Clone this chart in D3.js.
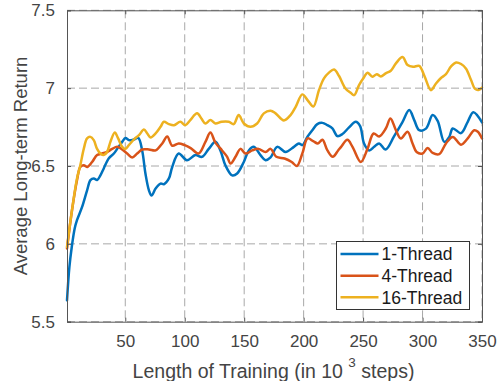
<!DOCTYPE html>
<html><head><meta charset="utf-8">
<script src="https://cdn.jsdelivr.net/npm/d3@7"></script>
<style>html,body{margin:0;padding:0;background:#fff;}svg{display:block;font-family:Arial,"Liberation Sans",Helvetica,sans-serif;}</style>
</head><body>
<svg id="chart" width="500" height="381"></svg>
<script>
const xTicks = [50, 100, 150, 200, 250, 300, 350];
const yTicks = [5.5, 6, 6.5, 7, 7.5];
const seriesNames = ["1-Thread", "4-Thread", "16-Thread"];
const seriesColors = ["#0072BD", "#D95319", "#EDB120"];

const x1 = [1,3,5,7.5,9.4,13.7,17.9,20.7,23.5,26.3,29.1,32,36.2,40.4,43.2,47.4,50.2,53,57.2,60.9,64.2,67,69.9,72.1,75.5,79.7,82.5,86.7,89.5,94.9,101.9,109,114.6,120.2,125.8,130,134.2,139.9,144.1,149.7,153.9,158.1,163.7,168,172.2,177.8,184.8,191.8,196,198.9,203.1,207.3,211.5,215.8,220,224.2,228.4,232.6,238.2,243.8,247.5,250.8,255.1,259.3,263.5,269,276,283,288.8,293,297.2,302.9,308.5,312.7,318.3,322.5,325.4,332.4,338,342.7,350];
const y1 = [5.637,5.85,5.98,6.1,6.152,6.237,6.344,6.409,6.42,6.41,6.44,6.486,6.55,6.58,6.61,6.655,6.68,6.666,6.67,6.68,6.6,6.45,6.344,6.31,6.355,6.387,6.383,6.42,6.494,6.58,6.537,6.57,6.559,6.61,6.655,6.6,6.505,6.44,6.452,6.526,6.6,6.623,6.57,6.537,6.555,6.623,6.59,6.623,6.645,6.634,6.687,6.73,6.769,6.777,6.762,6.741,6.692,6.705,6.748,6.784,6.756,6.645,6.6,6.623,6.645,6.606,6.69,6.78,6.859,6.795,6.73,6.74,6.827,6.79,6.655,6.687,6.741,6.711,6.784,6.845,6.78];

const x4 = [1,5.2,9.4,12.2,15.1,17.9,22.1,26.3,30.5,34.7,39,43.2,47.4,51.6,55.8,60,64.2,69.9,75.5,81.1,85.3,89.5,94.9,100,105,111.7,117.4,121.6,125.8,131.4,135.7,138.5,142.7,146.9,151.1,156.7,162,168,172.2,177,184,190,194.3,198.9,203.3,208,212,215.8,220,224.5,229,231.5,236.8,241.1,248.1,253.7,258.8,263.5,269.1,273,277.6,281.8,287.4,291.6,295,300,304.3,308.5,314,319.7,325.4,332.4,338,343.5,346.5,350];
const y4 = [5.97,6.216,6.409,6.494,6.505,6.494,6.526,6.57,6.58,6.59,6.61,6.623,6.606,6.58,6.555,6.58,6.606,6.606,6.6,6.645,6.69,6.63,6.645,6.634,6.615,6.58,6.655,6.715,6.65,6.6,6.559,6.516,6.559,6.61,6.58,6.6,6.61,6.59,6.61,6.559,6.548,6.526,6.5,6.58,6.677,6.66,6.645,6.668,6.6,6.559,6.6,6.623,6.668,6.623,6.526,6.61,6.709,6.69,6.741,6.805,6.73,6.677,6.72,6.645,6.59,6.58,6.615,6.584,6.576,6.645,6.687,6.637,6.677,6.73,6.72,6.677];

const x16 = [1,5.2,9.4,12.2,15.1,17.9,20.7,23.5,26.3,29.1,31.9,34.7,37.5,41.2,44,47.4,50,53,57.2,61.5,65.7,68.5,71.3,75.5,79.7,82.5,86.7,91,96.3,100.5,104.7,110.4,114,117.4,121.6,125.8,131,137,141.2,145.4,149.7,155.3,160.9,166.5,172.2,176.4,183.4,189,193.3,198.9,203.6,208.2,213,217.1,221.3,225.6,229.8,235,239.6,242.5,246.6,250.8,253.7,257.9,261.5,264.9,269,273.3,277.6,283.2,287.4,292,297.2,301.5,307.1,311.3,315.5,319.7,324,328.2,332.4,336.6,340.8,344.2,347,350];
const y16 = [5.98,6.216,6.42,6.505,6.61,6.677,6.687,6.666,6.61,6.58,6.57,6.59,6.655,6.715,6.677,6.623,6.61,6.634,6.67,6.698,6.734,6.709,6.683,6.709,6.752,6.784,6.769,6.762,6.784,6.762,6.795,6.838,6.805,6.773,6.795,6.773,6.784,6.784,6.769,6.827,6.773,6.752,6.773,6.838,6.855,6.838,6.793,6.827,6.88,6.96,6.92,6.882,6.99,7.063,7.1,7.12,7.078,7.0,6.97,6.955,7.02,7.07,7.099,7.073,7.09,7.075,7.095,7.112,7.159,7.2,7.148,7.137,7.143,7.08,6.987,7.03,7.065,7.09,7.14,7.165,7.155,7.125,7.052,6.995,6.988,7.003];

const seriesX = [x1, x4, x16];
const seriesY = [y1, y4, y16];

const m = {left: 67, right: 482, top: 10.3, bottom: 321.7};
const svg = d3.select("#chart");
const x = d3.scaleLinear().domain([1, 350]).range([m.left, m.right]);
const y = d3.scaleLinear().domain([5.5, 7.5]).range([m.bottom, m.top]);

const axisColor = "#555";
const textColor = "#444";

// grid
const grid = svg.append("g");
grid.selectAll(".gx").data(xTicks).enter().append("line")
  .attr("x1", d => x(d)).attr("x2", d => x(d)).attr("y1", m.top).attr("y2", m.bottom)
  .attr("stroke", "#a8a8a8").attr("stroke-width", 1).attr("stroke-dasharray", "8,4");
grid.selectAll(".gy").data(yTicks).enter().append("line")
  .attr("x1", m.left).attr("x2", m.right).attr("y1", d => y(d)).attr("y2", d => y(d))
  .attr("stroke", "#a8a8a8").attr("stroke-width", 1).attr("stroke-dasharray", "8,4");

// lines
const line = d3.line().curve(d3.curveCatmullRom.alpha(0.5));
seriesNames.forEach((name, i) => {
  const pts = seriesX[i].map((xv, j) => [x(xv), y(seriesY[i][j])]);
  svg.append("path").attr("d", line(pts)).attr("fill", "none")
    .attr("stroke", seriesColors[i]).attr("stroke-width", 2.5)
    .attr("stroke-linejoin", "round").attr("stroke-linecap", "round");
});

// axes
const xAxis = d3.axisBottom(x).tickValues(xTicks).tickSize(-4).tickPadding(13).tickFormat(d3.format("d"));
svg.append("g").attr("transform", `translate(0,${m.bottom})`).call(xAxis);
const yAxis = d3.axisLeft(y).tickValues(yTicks).tickSize(-4).tickPadding(12).tickFormat(d => String(d));
svg.append("g").attr("transform", `translate(${m.left},0)`).call(yAxis);
const xAxisTop = d3.axisTop(x).tickValues(xTicks).tickSize(-4).tickFormat("");
svg.append("g").attr("transform", `translate(0,${m.top})`).call(xAxisTop);
const yAxisRight = d3.axisRight(y).tickValues(yTicks).tickSize(-4).tickFormat("");
svg.append("g").attr("transform", `translate(${m.right},0)`).call(yAxisRight);
svg.selectAll(".domain").attr("stroke", axisColor).attr("stroke-width", 1);
svg.selectAll(".tick line").attr("stroke", axisColor);
svg.selectAll(".tick text").attr("fill", textColor).style("font-size", "17px")
  .style("font-family", "Arial, 'Liberation Sans', Helvetica, sans-serif");

// axis labels
svg.append("text").attr("x", (m.left + m.right) / 2 - 1).attr("y", 377.5)
  .attr("text-anchor", "middle").attr("fill", textColor).style("font-size", "19.5px")
  .call(t => {
    t.append("tspan").text("Length of Training (in 10 ");
    t.append("tspan").text("3").style("font-size", "13.5px").attr("dy", -11);
    t.append("tspan").text(" steps)").attr("dy", 11);
  });
svg.append("text").attr("transform", `translate(26.5,${(m.top + m.bottom) / 2}) rotate(-90)`)
  .attr("text-anchor", "middle").attr("fill", textColor).style("font-size", "18.5px")
  .text("Average Long-term Return");

// legend
const lg = svg.append("g");
lg.append("rect").attr("x", 336.5).attr("y", 241.5).attr("width", 133).attr("height", 68)
  .attr("fill", "#fff").attr("stroke", "#333").attr("stroke-width", 1);
const rowY = [254, 275.7, 297.3];
seriesNames.forEach((name, i) => {
  lg.append("line").attr("x1", 340.5).attr("x2", 378.5).attr("y1", rowY[i]).attr("y2", rowY[i])
    .attr("stroke", seriesColors[i]).attr("stroke-width", 2.5);
  lg.append("text").attr("x", 381.5).attr("y", rowY[i]).attr("dy", "0.36em")
    .attr("fill", "#1a1a1a").style("font-size", "17.5px").text(name);
});
</script>
</body></html>
